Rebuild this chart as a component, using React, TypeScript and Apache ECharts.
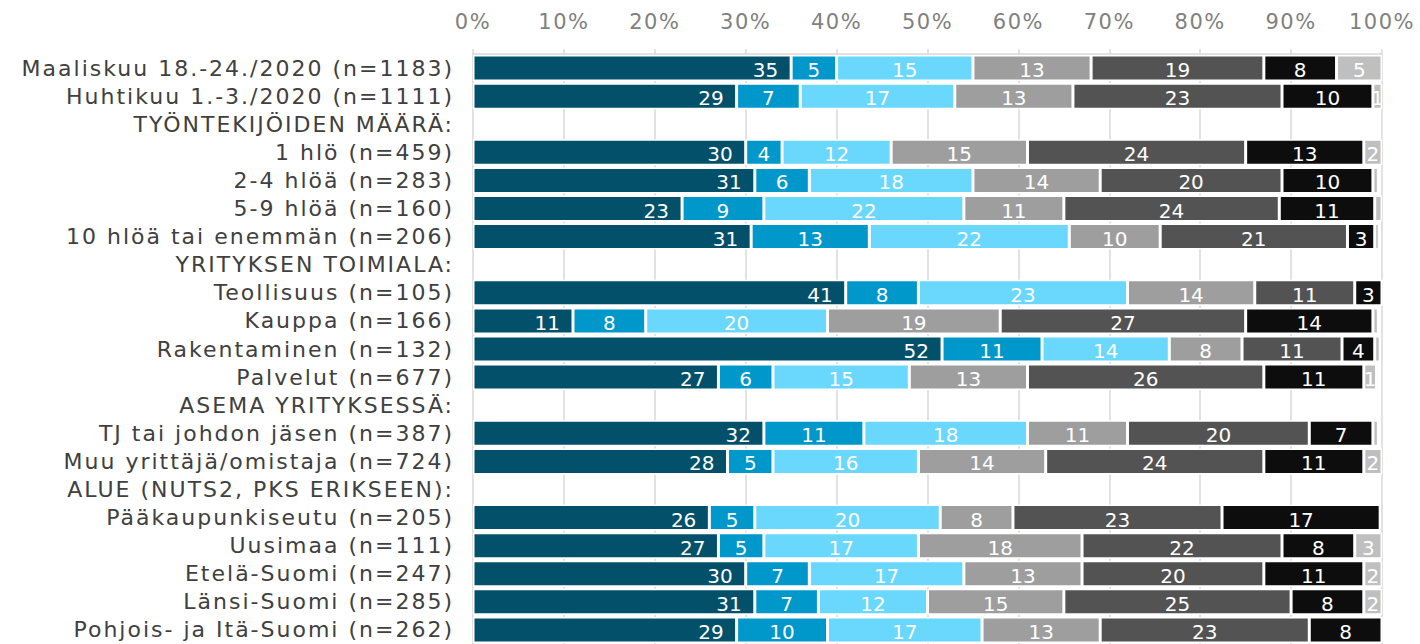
import React, { useEffect, useRef } from "react";
import * as echarts from "echarts";

const categories = [
  "Maaliskuu 18.-24./2020 (n=1183)",
  "Huhtikuu 1.-3./2020 (n=1111)",
  "TYÖNTEKIJÖIDEN MÄÄRÄ:",
  "1 hlö (n=459)",
  "2-4 hlöä (n=283)",
  "5-9 hlöä (n=160)",
  "10 hlöä tai enemmän (n=206)",
  "YRITYKSEN TOIMIALA:",
  "Teollisuus (n=105)",
  "Kauppa (n=166)",
  "Rakentaminen (n=132)",
  "Palvelut (n=677)",
  "ASEMA YRITYKSESSÄ:",
  "TJ tai johdon jäsen (n=387)",
  "Muu yrittäjä/omistaja (n=724)",
  "ALUE (NUTS2, PKS ERIKSEEN):",
  "Pääkaupunkiseutu (n=205)",
  "Uusimaa (n=111)",
  "Etelä-Suomi (n=247)",
  "Länsi-Suomi (n=285)",
  "Pohjois- ja Itä-Suomi (n=262)",
];

const s1 = [35, 29, null, 30, 31, 23, 30.6, null, 41, 11, 51.6, 27, null, 32, 28, null, 26, 27, 30, 31, 29];
const s2 = [5, 7, null, 4, 6, 9, 13, null, 8, 8, 11, 6, null, 11, 5, null, 5, 5, 7, 7, 10];
const s3 = [15, 17, null, 12, 18, 22, 22, null, 23, 20, 14, 15, null, 18, 16, null, 20.4, 17, 17, 12, 17];
const s4 = [13, 13, null, 15, 14, 11, 10, null, 14, 19, 8, 13, null, 11, 14, null, 8, 18, 13, 15, 13];
const s5 = [19, 23, null, 24, 20, 23.7, 20.6, null, 11, 27, 11, 26, null, 20, 24, null, 23, 22, 20, 25, 23];
const s6 = [8, 10, null, 13, 10, 10.5, 3, null, 3, 14, 3.6, 11, null, 7, 11, null, 17.4, 8, 11, 8, 8];
const s7 = [5, 1, null, 2, 0.6, 0.8, 0.5, null, 0, 0.6, 0.6, 1.4, null, 0.6, 2, null, 0, 3, 2, 2, 0];

const seriesData = [s1, s2, s3, s4, s5, s6, s7];
const seriesNames = ["1", "2", "3", "4", "5", "6", "7"];
const colors = ["#03506b", "#0098cb", "#6ad7fd", "#9e9e9e", "#535353", "#0d0d0d", "#bfbfbf"];

const xTicks = { min: 0, max: 100, interval: 10 };

export default function App() {
  const ref = useRef<HTMLDivElement>(null);
  useEffect(() => {
    if (!ref.current) return;
    const chart = echarts.init(ref.current, undefined, { renderer: "svg" });
    const font = "DejaVu Sans, Verdana, sans-serif";
    chart.setOption({
      animation: false,
      grid: { left: 473, right: 38, top: 54, height: 592, containLabel: false },
      xAxis: {
        type: "value",
        position: "top",
        min: xTicks.min,
        max: xTicks.max,
        interval: xTicks.interval,
        axisLine: { show: true, lineStyle: { color: "#d9d9d9", width: 1.5 } },
        axisTick: { show: true, length: 5, lineStyle: { color: "#d9d9d9", width: 1.5 } },
        splitLine: { show: true, lineStyle: { color: "#d9d9d9", width: 1.5 } },
        axisLabel: {
          formatter: "{value}%",
          color: "#808080",
          fontSize: 21,
          fontFamily: font,
          margin: 22,
        },
      },
      yAxis: {
        type: "category",
        inverse: true,
        data: categories,
        axisLine: { show: false },
        axisTick: { show: false },
        axisLabel: {
          color: "#404040",
          fontSize: 22,
          fontFamily: font,
          margin: 19,
          interval: 0,
        },
      },
      series: seriesData.map((d, i) => ({
        type: "bar",
        name: seriesNames[i],
        stack: "total",
        data: d,
        barWidth: 26,
        itemStyle: { color: colors[i], borderColor: "#ffffff", borderWidth: 1.5 },
        label: {
          show: true,
          position: i === 0 ? "insideRight" : "inside",
          distance: 13,
          offset: [0, 2],
          color: "#ffffff",
          fontSize: 20,
          fontFamily: font,
          formatter: (p: any) => (p.value >= 1 ? String(Math.round(p.value)) : ""),
        },
      })),
    });
    const texts = ref.current.querySelectorAll("text");
    texts.forEach((t) => {
      const s = (t.textContent || "").trim();
      if (categories.indexOf(s) >= 0) t.setAttribute("letter-spacing", "2");
      else if (s.endsWith("%")) t.setAttribute("letter-spacing", "1.5");
    });
    return () => chart.dispose();
  }, []);
  return (
    <div
      ref={ref}
      style={{ position: "fixed", left: 0, top: 0, width: 1420, height: 644, background: "#fff" }}
    />
  );
}
